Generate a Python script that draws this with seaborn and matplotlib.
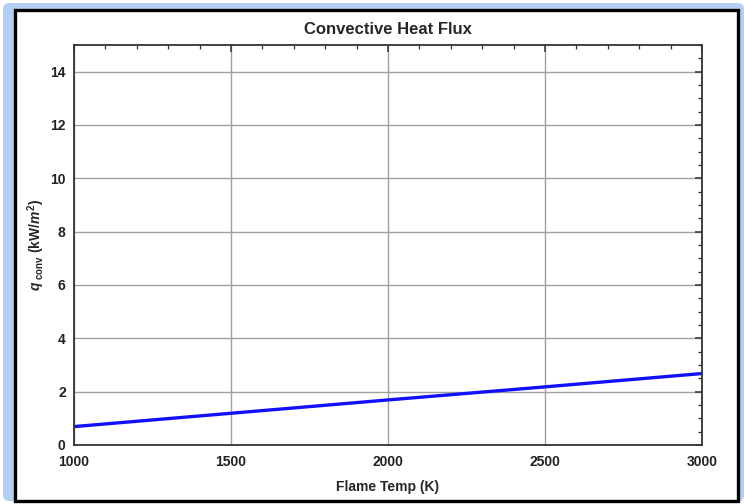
import numpy as np
import pandas as pd
import seaborn as sns
import matplotlib.pyplot as plt
from matplotlib.patches import Rectangle, FancyBboxPatch
from matplotlib.ticker import MultipleLocator

# data
flame_temp = [1000, 1500, 2000, 2500, 3000]
q_conv = [0.69, 1.19, 1.69, 2.18, 2.68]

df = pd.DataFrame({"Flame Temp (K)": flame_temp, "q_conv": q_conv})

sns.set_style("white")
plt.rcParams['font.family'] = ['Liberation Sans', 'DejaVu Sans']
plt.rcParams['font.weight'] = 'bold'
plt.rcParams['mathtext.fontset'] = 'custom'
plt.rcParams['mathtext.rm'] = 'Liberation Sans:bold'
plt.rcParams['mathtext.it'] = 'Liberation Sans:bold:italic'

fig = plt.figure(figsize=(7.44, 5.04), dpi=100)
W, H = 744, 504

# frame: light blue glow + black box (drawn behind the axes)
fig.patches.append(FancyBboxPatch((3 / W, 3 / H), 741 / W, 498 / H,
                                  boxstyle="round,pad=0,rounding_size=0.01",
                                  transform=fig.transFigure, facecolor='#b3cff3',
                                  edgecolor='none', zorder=-3))
fig.patches.append(Rectangle((15 / W, 3 / H), 723 / W, 491 / H,
                             transform=fig.transFigure, facecolor='white',
                             edgecolor='black', linewidth=2.4, zorder=-2))

ax = fig.add_axes([74 / W, 59 / H, 628 / W, 400 / H])
ax.set_facecolor('none')
sns.lineplot(data=df, x="Flame Temp (K)", y="q_conv", color='#1010ff', linewidth=2.4, ax=ax)

ax.set_xlim(1000, 3000)
ax.set_ylim(0, 15)
ax.xaxis.set_major_locator(MultipleLocator(500))
ax.xaxis.set_minor_locator(MultipleLocator(100))
ax.yaxis.set_major_locator(MultipleLocator(2))
ax.yaxis.set_minor_locator(MultipleLocator(0.5))
ax.set_yticks([0, 2, 4, 6, 8, 10, 12, 14])
ax.grid(True, which='major', color='#a0a0a0', linewidth=1)
ax.tick_params(which='both', direction='in', top=True, right=True,
               labelsize=10, colors='#333333', labelcolor='#222222')
ax.tick_params(which='major', length=5, width=1.1)
ax.tick_params(axis='x', which='major', pad=7)
ax.tick_params(axis='y', which='major', pad=6)
ax.tick_params(which='minor', length=3, width=0.9)
for lab in ax.get_xticklabels() + ax.get_yticklabels():
    lab.set_fontweight('bold')
for s in ax.spines.values():
    s.set_color('#333333')
    s.set_linewidth(1.3)

ax.set_title("Convective Heat Flux", fontsize=12, fontweight='bold', pad=8)
ax.set_xlabel("Flame Temp (K)", fontsize=10, fontweight='bold', labelpad=8)
ax.set_ylabel(r"$q_{\rm\ conv}$ (kW/$m^2$)", fontsize=10, fontweight='bold', labelpad=2)

fig.savefig("out.png", dpi=100)
